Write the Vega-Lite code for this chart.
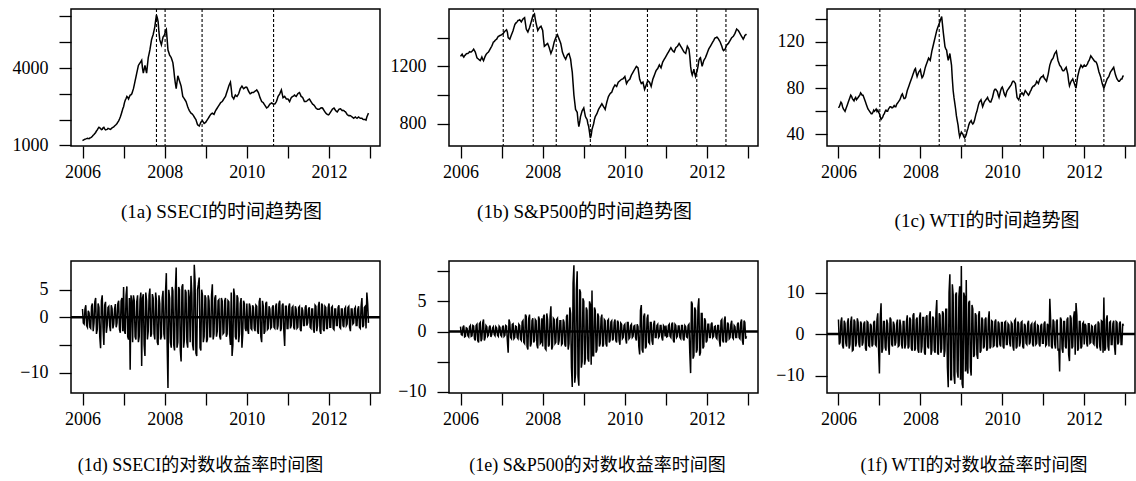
{
"$schema": "https://vega.github.io/schema/vega-lite/v6.json",
"background": "white",
"padding": {"left": 11, "top": 6, "right": 0, "bottom": 0},
"config": {
  "view": {"stroke": "black", "strokeWidth": 1.5},
  "axis": {"domain": false, "grid": false, "tickColor": "black", "tickSize": 12, "tickWidth": 1.3, "labelFont": "Liberation Serif", "labelFontSize": 18, "labelColor": "black", "labelOverlap": false, "labelFlush": false, "labelSeparation": 0},
  "axisY": {"labelPadding": 11},
  "axisX": {"labelPadding": 5},
  "title": {"font": "Liberation Serif, Noto Sans CJK SC", "fontSize": 19, "fontWeight": "normal", "color": "black", "orient": "bottom", "frame": "group", "anchor": "middle"}
},
"datasets": {
"ts": [
{"t":2006.00,"a":1180,"b":1270,"c":63,"d":1.5,"e":0.8,"f":3.5},
{"t":2006.04,"a":1220,"b":1285,"c":66,"d":-1.2,"e":-0.6,"f":-2.0},
{"t":2006.08,"a":1250,"b":1265,"c":67,"d":2.2,"e":1.0,"f":4.0},
{"t":2006.12,"a":1270,"b":1280,"c":62,"d":-1.8,"e":-0.8,"f":-3.5},
{"t":2006.16,"a":1260,"b":1290,"c":60,"d":0.8,"e":0.5,"f":2.5},
{"t":2006.20,"a":1300,"b":1295,"c":64,"d":-2.0,"e":-0.9,"f":-3.0},
{"t":2006.24,"a":1350,"b":1300,"c":68,"d":2.5,"e":1.0,"f":3.8},
{"t":2006.28,"a":1420,"b":1305,"c":72,"d":-1.0,"e":-0.7,"f":-2.5},
{"t":2006.32,"a":1500,"b":1320,"c":73,"d":3.5,"e":0.9,"f":4.2},
{"t":2006.36,"a":1600,"b":1300,"c":70,"d":-2.2,"e":-1.5,"f":-3.8},
{"t":2006.40,"a":1700,"b":1260,"c":71,"d":1.8,"e":1.2,"f":3.0},
{"t":2006.44,"a":1650,"b":1250,"c":70,"d":-5.6,"e":-1.8,"f":-2.0},
{"t":2006.48,"a":1620,"b":1240,"c":72,"d":4.0,"e":1.5,"f":2.8},
{"t":2006.52,"a":1700,"b":1265,"c":74,"d":-5.0,"e":-1.2,"f":-3.2},
{"t":2006.56,"a":1600,"b":1240,"c":75,"d":2.8,"e":2.0,"f":2.5},
{"t":2006.60,"a":1620,"b":1270,"c":74,"d":-1.5,"e":-1.0,"f":-2.0},
{"t":2006.64,"a":1650,"b":1290,"c":70,"d":2.0,"e":0.8,"f":3.0},
{"t":2006.68,"a":1620,"b":1300,"c":66,"d":-2.5,"e":-0.6,"f":-4.0},
{"t":2006.72,"a":1680,"b":1320,"c":62,"d":1.6,"e":1.0,"f":2.8},
{"t":2006.76,"a":1720,"b":1340,"c":60,"d":-1.2,"e":-0.5,"f":-3.0},
{"t":2006.80,"a":1780,"b":1370,"c":58,"d":2.4,"e":0.8,"f":2.0},
{"t":2006.84,"a":1850,"b":1380,"c":59,"d":-1.0,"e":-0.7,"f":-2.5},
{"t":2006.88,"a":1950,"b":1390,"c":60,"d":3.0,"e":0.6,"f":3.2},
{"t":2006.92,"a":2100,"b":1410,"c":62,"d":-2.8,"e":-0.8,"f":-2.8},
{"t":2006.96,"a":2300,"b":1415,"c":61,"d":3.5,"e":0.7,"f":5.0},
{"t":2007.00,"a":2500,"b":1420,"c":58,"d":5.5,"e":-0.8,"f":-9.5},
{"t":2007.04,"a":2750,"b":1430,"c":53,"d":-3.0,"e":1.0,"f":7.4},
{"t":2007.08,"a":2900,"b":1445,"c":55,"d":5.6,"e":-0.6,"f":-3.5},
{"t":2007.12,"a":2800,"b":1455,"c":58,"d":-4.0,"e":0.9,"f":3.0},
{"t":2007.16,"a":2950,"b":1400,"c":61,"d":-9.5,"e":-3.5,"f":-4.0},
{"t":2007.20,"a":3000,"b":1390,"c":60,"d":3.0,"e":1.5,"f":2.5},
{"t":2007.24,"a":3200,"b":1420,"c":63,"d":4.0,"e":-1.2,"f":-5.0},
{"t":2007.28,"a":3500,"b":1450,"c":64,"d":-3.5,"e":1.3,"f":3.5},
{"t":2007.32,"a":3800,"b":1490,"c":63,"d":2.8,"e":-1.0,"f":-3.0},
{"t":2007.36,"a":4100,"b":1505,"c":65,"d":-4.5,"e":0.8,"f":2.2},
{"t":2007.40,"a":4200,"b":1520,"c":64,"d":3.2,"e":-1.2,"f":-2.0},
{"t":2007.44,"a":4300,"b":1525,"c":67,"d":-8.8,"e":1.0,"f":3.5},
{"t":2007.48,"a":3800,"b":1510,"c":69,"d":4.2,"e":-1.5,"f":-2.8},
{"t":2007.52,"a":4100,"b":1530,"c":72,"d":-7.0,"e":1.8,"f":2.0},
{"t":2007.56,"a":3800,"b":1540,"c":75,"d":3.0,"e":-2.0,"f":-3.5},
{"t":2007.60,"a":4400,"b":1460,"c":71,"d":-2.5,"e":2.5,"f":3.0},
{"t":2007.64,"a":4700,"b":1440,"c":72,"d":5.2,"e":-3.0,"f":-2.5},
{"t":2007.68,"a":5100,"b":1470,"c":78,"d":-3.0,"e":2.8,"f":4.5},
{"t":2007.72,"a":5300,"b":1510,"c":82,"d":3.5,"e":-2.0,"f":-3.0},
{"t":2007.76,"a":5600,"b":1550,"c":86,"d":-4.0,"e":2.2,"f":3.5},
{"t":2007.80,"a":6050,"b":1565,"c":90,"d":3.0,"e":-1.5,"f":-4.0},
{"t":2007.84,"a":5800,"b":1500,"c":94,"d":-5.0,"e":1.8,"f":5.0},
{"t":2007.88,"a":5100,"b":1450,"c":97,"d":2.5,"e":-2.8,"f":-3.5},
{"t":2007.92,"a":4900,"b":1470,"c":90,"d":-3.5,"e":2.0,"f":4.0},
{"t":2007.96,"a":5200,"b":1480,"c":94,"d":4.8,"e":-1.8,"f":-4.5},
{"t":2008.00,"a":5300,"b":1450,"c":96,"d":-4.0,"e":-2.5,"f":5.2},
{"t":2008.04,"a":5500,"b":1340,"c":89,"d":8.0,"e":2.8,"f":-3.0},
{"t":2008.08,"a":4700,"b":1350,"c":92,"d":-12.8,"e":-3.0,"f":4.0},
{"t":2008.12,"a":4500,"b":1360,"c":98,"d":3.5,"e":2.0,"f":-5.0},
{"t":2008.16,"a":4400,"b":1330,"c":102,"d":-5.5,"e":-2.2,"f":4.5},
{"t":2008.20,"a":4200,"b":1290,"c":106,"d":4.8,"e":4.2,"f":-3.5},
{"t":2008.24,"a":3650,"b":1320,"c":104,"d":-6.0,"e":-2.5,"f":5.5},
{"t":2008.28,"a":3200,"b":1370,"c":112,"d":9.0,"e":2.0,"f":-4.0},
{"t":2008.32,"a":3700,"b":1400,"c":118,"d":-4.5,"e":-1.8,"f":3.8},
{"t":2008.36,"a":3500,"b":1420,"c":124,"d":5.0,"e":2.2,"f":-4.5},
{"t":2008.40,"a":3300,"b":1390,"c":130,"d":-8.0,"e":-1.5,"f":8.2},
{"t":2008.44,"a":2900,"b":1360,"c":134,"d":6.0,"e":1.8,"f":-5.0},
{"t":2008.48,"a":2800,"b":1300,"c":138,"d":-4.0,"e":-2.0,"f":4.5},
{"t":2008.52,"a":2700,"b":1270,"c":142,"d":4.5,"e":1.5,"f":-3.5},
{"t":2008.56,"a":2500,"b":1250,"c":128,"d":-5.5,"e":-2.5,"f":5.0},
{"t":2008.60,"a":2350,"b":1280,"c":116,"d":3.5,"e":2.8,"f":-4.0},
{"t":2008.64,"a":2250,"b":1290,"c":113,"d":7.5,"e":-2.0,"f":6.0},
{"t":2008.68,"a":2200,"b":1250,"c":104,"d":-5.0,"e":3.0,"f":-12.8},
{"t":2008.72,"a":2100,"b":1160,"c":110,"d":9.5,"e":-9.2,"f":14.4},
{"t":2008.76,"a":2000,"b":1000,"c":100,"d":-6.5,"e":11.0,"f":-11.0},
{"t":2008.80,"a":1800,"b":900,"c":78,"d":5.0,"e":-7.0,"f":9.5},
{"t":2008.84,"a":1750,"b":880,"c":67,"d":7.2,"e":10.0,"f":-12.0},
{"t":2008.88,"a":1900,"b":780,"c":56,"d":-6.0,"e":-9.0,"f":10.0},
{"t":2008.92,"a":1950,"b":850,"c":48,"d":4.0,"e":6.5,"f":-10.5},
{"t":2008.96,"a":1850,"b":890,"c":38,"d":-3.5,"e":-5.0,"f":11.5},
{"t":2009.00,"a":1900,"b":910,"c":42,"d":3.5,"e":5.0,"f":16.4},
{"t":2009.04,"a":2000,"b":850,"c":40,"d":-4.0,"e":-4.5,"f":-13.0},
{"t":2009.08,"a":2100,"b":830,"c":37,"d":3.0,"e":3.5,"f":9.0},
{"t":2009.12,"a":2200,"b":780,"c":40,"d":-3.5,"e":-5.0,"f":13.0},
{"t":2009.16,"a":2250,"b":700,"c":45,"d":6.0,"e":4.5,"f":-9.5},
{"t":2009.20,"a":2200,"b":760,"c":50,"d":-3.0,"e":6.8,"f":8.0},
{"t":2009.24,"a":2350,"b":800,"c":52,"d":4.0,"e":-4.0,"f":-10.0},
{"t":2009.28,"a":2450,"b":850,"c":49,"d":-2.5,"e":3.5,"f":6.0},
{"t":2009.32,"a":2550,"b":870,"c":52,"d":3.2,"e":-3.0,"f":-5.0},
{"t":2009.36,"a":2650,"b":900,"c":58,"d":-4.0,"e":2.5,"f":4.5},
{"t":2009.40,"a":2700,"b":920,"c":63,"d":3.0,"e":-2.0,"f":-6.0},
{"t":2009.44,"a":2800,"b":940,"c":68,"d":-2.8,"e":2.8,"f":5.5},
{"t":2009.48,"a":2900,"b":920,"c":70,"d":3.5,"e":-2.2,"f":-4.0},
{"t":2009.52,"a":3100,"b":900,"c":64,"d":-3.0,"e":1.8,"f":3.5},
{"t":2009.56,"a":3300,"b":950,"c":68,"d":2.8,"e":-2.5,"f":-3.0},
{"t":2009.60,"a":3450,"b":990,"c":70,"d":-5.0,"e":2.0,"f":4.0},
{"t":2009.64,"a":2900,"b":1010,"c":72,"d":-7.0,"e":-1.5,"f":-3.5},
{"t":2009.68,"a":2800,"b":1020,"c":69,"d":5.2,"e":1.8,"f":5.5},
{"t":2009.72,"a":2950,"b":1050,"c":68,"d":-3.5,"e":-1.2,"f":-3.0},
{"t":2009.76,"a":2900,"b":1070,"c":72,"d":4.0,"e":2.0,"f":3.0},
{"t":2009.80,"a":3000,"b":1060,"c":78,"d":-4.5,"e":-1.8,"f":-2.8},
{"t":2009.84,"a":3200,"b":1090,"c":79,"d":2.5,"e":1.5,"f":3.5},
{"t":2009.88,"a":3300,"b":1100,"c":77,"d":-5.5,"e":-2.2,"f":-3.2},
{"t":2009.92,"a":3200,"b":1110,"c":72,"d":3.0,"e":1.2,"f":2.5},
{"t":2009.96,"a":3250,"b":1115,"c":78,"d":-2.0,"e":-1.0,"f":-3.0},
{"t":2010.00,"a":3250,"b":1130,"c":81,"d":2.5,"e":1.2,"f":2.8},
{"t":2010.04,"a":3100,"b":1080,"c":76,"d":-3.0,"e":-2.0,"f":-3.5},
{"t":2010.08,"a":3000,"b":1100,"c":73,"d":2.0,"e":1.5,"f":3.0},
{"t":2010.12,"a":3050,"b":1110,"c":78,"d":-2.2,"e":-1.0,"f":-2.5},
{"t":2010.16,"a":3050,"b":1140,"c":80,"d":1.8,"e":1.2,"f":2.2},
{"t":2010.20,"a":3100,"b":1160,"c":82,"d":-2.5,"e":-0.8,"f":-3.0},
{"t":2010.24,"a":3150,"b":1180,"c":85,"d":2.0,"e":1.0,"f":2.5},
{"t":2010.28,"a":3050,"b":1200,"c":86,"d":-3.0,"e":-1.5,"f":-4.0},
{"t":2010.32,"a":2850,"b":1190,"c":84,"d":3.5,"e":0.8,"f":3.5},
{"t":2010.36,"a":2700,"b":1110,"c":72,"d":-4.5,"e":-3.8,"f":-3.0},
{"t":2010.40,"a":2650,"b":1080,"c":70,"d":2.0,"e":4.4,"f":2.5},
{"t":2010.44,"a":2550,"b":1090,"c":75,"d":-2.5,"e":-3.5,"f":-2.0},
{"t":2010.48,"a":2450,"b":1040,"c":76,"d":2.8,"e":3.0,"f":3.0},
{"t":2010.52,"a":2500,"b":1070,"c":74,"d":-2.0,"e":-2.5,"f":-3.5},
{"t":2010.56,"a":2600,"b":1100,"c":78,"d":1.5,"e":2.8,"f":2.0},
{"t":2010.60,"a":2650,"b":1090,"c":76,"d":-1.8,"e":-2.0,"f":-2.5},
{"t":2010.64,"a":2600,"b":1060,"c":74,"d":2.2,"e":1.5,"f":3.2},
{"t":2010.68,"a":2600,"b":1110,"c":77,"d":-2.0,"e":-2.2,"f":-2.0},
{"t":2010.72,"a":2700,"b":1140,"c":80,"d":2.5,"e":1.8,"f":2.5},
{"t":2010.76,"a":2900,"b":1170,"c":82,"d":-1.5,"e":-1.0,"f":-3.0},
{"t":2010.80,"a":3000,"b":1185,"c":83,"d":3.0,"e":1.2,"f":2.8},
{"t":2010.84,"a":3150,"b":1210,"c":86,"d":-2.0,"e":-0.8,"f":-2.2},
{"t":2010.88,"a":2850,"b":1190,"c":84,"d":2.5,"e":1.0,"f":2.0},
{"t":2010.92,"a":2900,"b":1230,"c":88,"d":-5.2,"e":-1.5,"f":-3.0},
{"t":2010.96,"a":2800,"b":1250,"c":90,"d":2.0,"e":0.8,"f":2.5},
{"t":2011.00,"a":2800,"b":1270,"c":91,"d":-2.0,"e":1.0,"f":-2.2},
{"t":2011.04,"a":2700,"b":1290,"c":88,"d":2.5,"e":-0.8,"f":3.0},
{"t":2011.08,"a":2850,"b":1310,"c":86,"d":-1.5,"e":1.2,"f":-2.5},
{"t":2011.12,"a":2900,"b":1330,"c":92,"d":2.0,"e":-1.0,"f":2.0},
{"t":2011.16,"a":2950,"b":1310,"c":100,"d":-2.2,"e":1.5,"f":8.5},
{"t":2011.20,"a":2900,"b":1300,"c":104,"d":1.5,"e":-1.8,"f":-3.0},
{"t":2011.24,"a":3000,"b":1330,"c":106,"d":-1.8,"e":1.0,"f":3.5},
{"t":2011.28,"a":3050,"b":1340,"c":110,"d":2.0,"e":-0.8,"f":-2.5},
{"t":2011.32,"a":2900,"b":1360,"c":112,"d":-2.5,"e":0.9,"f":3.0},
{"t":2011.36,"a":2850,"b":1340,"c":104,"d":1.2,"e":-1.2,"f":-4.0},
{"t":2011.40,"a":2700,"b":1320,"c":100,"d":-1.5,"e":1.0,"f":-9.0},
{"t":2011.44,"a":2700,"b":1300,"c":98,"d":2.2,"e":-1.5,"f":3.5},
{"t":2011.48,"a":2750,"b":1290,"c":95,"d":-1.0,"e":0.8,"f":-4.5},
{"t":2011.52,"a":2800,"b":1340,"c":96,"d":1.8,"e":-1.0,"f":3.0},
{"t":2011.56,"a":2700,"b":1320,"c":98,"d":-2.0,"e":1.2,"f":-3.5},
{"t":2011.60,"a":2600,"b":1200,"c":92,"d":1.5,"e":-6.9,"f":4.0},
{"t":2011.64,"a":2550,"b":1140,"c":82,"d":-2.8,"e":4.6,"f":-6.5},
{"t":2011.68,"a":2450,"b":1180,"c":86,"d":2.0,"e":-4.0,"f":3.8},
{"t":2011.72,"a":2400,"b":1130,"c":88,"d":-1.5,"e":3.5,"f":-3.0},
{"t":2011.76,"a":2400,"b":1170,"c":84,"d":2.8,"e":-3.0,"f":5.5},
{"t":2011.80,"a":2450,"b":1240,"c":80,"d":-3.0,"e":5.5,"f":7.5},
{"t":2011.84,"a":2450,"b":1260,"c":90,"d":2.2,"e":-3.5,"f":-4.0},
{"t":2011.88,"a":2350,"b":1200,"c":96,"d":-2.5,"e":3.0,"f":3.0},
{"t":2011.92,"a":2250,"b":1240,"c":100,"d":1.8,"e":-2.5,"f":-3.5},
{"t":2011.96,"a":2200,"b":1260,"c":98,"d":-2.0,"e":1.8,"f":2.5},
{"t":2012.00,"a":2200,"b":1290,"c":100,"d":2.5,"e":-1.5,"f":-2.5},
{"t":2012.04,"a":2300,"b":1320,"c":99,"d":-1.8,"e":1.2,"f":2.0},
{"t":2012.08,"a":2400,"b":1340,"c":101,"d":2.0,"e":-1.0,"f":-3.0},
{"t":2012.12,"a":2450,"b":1360,"c":104,"d":-2.2,"e":1.5,"f":2.5},
{"t":2012.16,"a":2350,"b":1380,"c":108,"d":1.5,"e":-0.8,"f":-2.0},
{"t":2012.20,"a":2300,"b":1400,"c":106,"d":-1.5,"e":0.9,"f":1.8},
{"t":2012.24,"a":2400,"b":1405,"c":104,"d":2.2,"e":-1.2,"f":-2.5},
{"t":2012.28,"a":2420,"b":1390,"c":103,"d":-2.0,"e":1.0,"f":2.2},
{"t":2012.32,"a":2350,"b":1370,"c":100,"d":1.5,"e":-2.5,"f":-3.5},
{"t":2012.36,"a":2350,"b":1340,"c":94,"d":-1.8,"e":2.0,"f":2.5},
{"t":2012.40,"a":2300,"b":1310,"c":90,"d":1.8,"e":-1.8,"f":-4.0},
{"t":2012.44,"a":2200,"b":1320,"c":84,"d":-1.2,"e":2.5,"f":3.0},
{"t":2012.48,"a":2150,"b":1350,"c":80,"d":2.0,"e":-1.5,"f":8.8},
{"t":2012.52,"a":2150,"b":1360,"c":84,"d":-2.5,"e":1.2,"f":-3.5},
{"t":2012.56,"a":2100,"b":1380,"c":88,"d":1.5,"e":-1.0,"f":4.5},
{"t":2012.60,"a":2050,"b":1400,"c":90,"d":-1.0,"e":1.8,"f":-4.0},
{"t":2012.64,"a":2100,"b":1410,"c":94,"d":1.8,"e":-1.2,"f":3.0},
{"t":2012.68,"a":2050,"b":1430,"c":96,"d":-1.5,"e":0.8,"f":-2.5},
{"t":2012.72,"a":2100,"b":1460,"c":98,"d":2.0,"e":-1.0,"f":3.2},
{"t":2012.76,"a":2050,"b":1450,"c":92,"d":-2.0,"e":1.5,"f":-5.0},
{"t":2012.80,"a":2050,"b":1430,"c":88,"d":3.5,"e":-1.2,"f":2.8},
{"t":2012.84,"a":2000,"b":1410,"c":86,"d":-1.5,"e":2.0,"f":-2.0},
{"t":2012.88,"a":2000,"b":1390,"c":87,"d":2.0,"e":-2.2,"f":3.0},
{"t":2012.92,"a":2100,"b":1415,"c":88,"d":4.5,"e":1.5,"f":-2.5},
{"t":2012.96,"a":2250,"b":1425,"c":91,"d":-1.0,"e":-0.8,"f":2.0},
{"t":2006.02,"a":1200,"b":1278,"c":64,"d":-1.0,"e":-0.5,"f":-2.5},
{"t":2006.06,"a":1240,"b":1272,"c":68,"d":1.5,"e":0.7,"f":3.0},
{"t":2006.10,"a":1262,"b":1275,"c":64,"d":-1.5,"e":-0.9,"f":-2.8},
{"t":2006.14,"a":1262,"b":1288,"c":61,"d":1.2,"e":0.6,"f":3.2},
{"t":2006.18,"a":1285,"b":1290,"c":62,"d":-1.8,"e":-0.7,"f":-2.2},
{"t":2006.22,"a":1320,"b":1302,"c":66,"d":2.0,"e":0.8,"f":2.8},
{"t":2006.26,"a":1390,"b":1300,"c":70,"d":-2.5,"e":-0.8,"f":-3.5},
{"t":2006.30,"a":1460,"b":1312,"c":74,"d":2.8,"e":1.0,"f":3.0},
{"t":2006.34,"a":1560,"b":1310,"c":71,"d":-3.0,"e":-1.2,"f":-4.0},
{"t":2006.38,"a":1660,"b":1280,"c":69,"d":2.5,"e":1.0,"f":3.5},
{"t":2006.42,"a":1680,"b":1255,"c":72,"d":-3.5,"e":-1.5,"f":-3.0},
{"t":2006.46,"a":1610,"b":1245,"c":71,"d":3.0,"e":1.3,"f":3.8},
{"t":2006.50,"a":1680,"b":1252,"c":73,"d":-2.0,"e":-1.6,"f":-2.5},
{"t":2006.54,"a":1640,"b":1250,"c":76,"d":2.2,"e":1.4,"f":3.0},
{"t":2006.58,"a":1610,"b":1255,"c":74,"d":-2.8,"e":-1.5,"f":-2.8},
{"t":2006.62,"a":1660,"b":1282,"c":72,"d":1.8,"e":1.0,"f":2.5},
{"t":2006.66,"a":1630,"b":1295,"c":68,"d":-1.5,"e":-0.8,"f":-3.5},
{"t":2006.70,"a":1650,"b":1310,"c":64,"d":2.2,"e":0.7,"f":3.0},
{"t":2006.74,"a":1700,"b":1330,"c":61,"d":-2.0,"e":-0.9,"f":-2.8},
{"t":2006.78,"a":1750,"b":1355,"c":59,"d":1.5,"e":0.6,"f":2.5},
{"t":2006.82,"a":1810,"b":1372,"c":58,"d":-1.8,"e":-0.5,"f":-3.0},
{"t":2006.86,"a":1900,"b":1386,"c":61,"d":2.5,"e":0.8,"f":2.8},
{"t":2006.90,"a":2020,"b":1400,"c":61,"d":-2.2,"e":-0.6,"f":-2.5},
{"t":2006.94,"a":2200,"b":1412,"c":60,"d":3.0,"e":0.9,"f":3.5},
{"t":2006.98,"a":2420,"b":1418,"c":59,"d":-2.5,"e":-0.6,"f":-4.0},
{"t":2007.02,"a":2650,"b":1426,"c":55,"d":-2.5,"e":0.7,"f":4.0},
{"t":2007.06,"a":2820,"b":1438,"c":54,"d":4.0,"e":-0.8,"f":-4.5},
{"t":2007.10,"a":2860,"b":1450,"c":57,"d":-3.5,"e":1.0,"f":3.0},
{"t":2007.14,"a":2880,"b":1440,"c":60,"d":3.5,"e":-1.5,"f":-3.2},
{"t":2007.18,"a":2960,"b":1395,"c":60,"d":4.0,"e":2.0,"f":3.5},
{"t":2007.22,"a":3100,"b":1405,"c":62,"d":-4.5,"e":-1.0,"f":-3.0},
{"t":2007.26,"a":3350,"b":1435,"c":64,"d":3.0,"e":1.2,"f":4.0},
{"t":2007.30,"a":3650,"b":1470,"c":63,"d":-4.0,"e":-1.2,"f":-2.5},
{"t":2007.34,"a":3950,"b":1500,"c":64,"d":4.0,"e":0.9,"f":3.0},
{"t":2007.38,"a":4150,"b":1512,"c":64,"d":-3.5,"e":-1.0,"f":-2.8},
{"t":2007.42,"a":4250,"b":1522,"c":66,"d":4.5,"e":1.2,"f":2.5},
{"t":2007.46,"a":4000,"b":1518,"c":68,"d":3.5,"e":-1.3,"f":-3.0},
{"t":2007.50,"a":3950,"b":1520,"c":70,"d":-5.0,"e":1.6,"f":3.5},
{"t":2007.54,"a":3950,"b":1535,"c":74,"d":4.5,"e":-1.8,"f":-2.5},
{"t":2007.58,"a":4100,"b":1500,"c":73,"d":-4.0,"e":2.8,"f":3.0},
{"t":2007.62,"a":4550,"b":1450,"c":71,"d":4.0,"e":-2.5,"f":-3.5},
{"t":2007.66,"a":4900,"b":1455,"c":75,"d":-3.5,"e":2.2,"f":3.0},
{"t":2007.70,"a":5200,"b":1490,"c":80,"d":4.2,"e":-2.5,"f":-3.5},
{"t":2007.74,"a":5450,"b":1530,"c":84,"d":-3.0,"e":1.8,"f":4.0},
{"t":2007.78,"a":5850,"b":1558,"c":88,"d":4.5,"e":-1.8,"f":-3.5},
{"t":2007.82,"a":5950,"b":1530,"c":92,"d":-4.5,"e":2.0,"f":4.5},
{"t":2007.86,"a":5400,"b":1475,"c":96,"d":4.0,"e":-2.2,"f":-4.0},
{"t":2007.90,"a":5000,"b":1460,"c":93,"d":-4.0,"e":2.5,"f":3.5},
{"t":2007.94,"a":5050,"b":1475,"c":92,"d":3.5,"e":-2.0,"f":-3.8},
{"t":2007.98,"a":5250,"b":1465,"c":95,"d":-3.0,"e":2.2,"f":4.2},
{"t":2008.02,"a":5450,"b":1390,"c":92,"d":4.5,"e":2.5,"f":-4.5},
{"t":2008.06,"a":5100,"b":1345,"c":90,"d":-5.0,"e":-2.8,"f":4.0},
{"t":2008.10,"a":4600,"b":1355,"c":95,"d":5.0,"e":3.0,"f":-4.5},
{"t":2008.14,"a":4450,"b":1345,"c":100,"d":-4.5,"e":-2.5,"f":4.0},
{"t":2008.18,"a":4300,"b":1310,"c":104,"d":5.5,"e":2.5,"f":-3.0},
{"t":2008.22,"a":3950,"b":1305,"c":105,"d":-5.0,"e":-3.0,"f":4.5},
{"t":2008.26,"a":3400,"b":1345,"c":108,"d":5.0,"e":2.2,"f":-5.0},
{"t":2008.30,"a":3450,"b":1385,"c":115,"d":-5.5,"e":-2.0,"f":4.2},
{"t":2008.34,"a":3600,"b":1410,"c":121,"d":5.5,"e":2.0,"f":-4.0},
{"t":2008.38,"a":3400,"b":1405,"c":127,"d":-6.0,"e":-2.2,"f":5.0},
{"t":2008.42,"a":3100,"b":1375,"c":132,"d":5.5,"e":1.8,"f":-4.5},
{"t":2008.46,"a":2850,"b":1330,"c":136,"d":-5.5,"e":-2.2,"f":5.0},
{"t":2008.50,"a":2750,"b":1285,"c":140,"d":5.0,"e":2.0,"f":-4.5},
{"t":2008.54,"a":2600,"b":1260,"c":135,"d":-4.5,"e":-2.2,"f":5.5},
{"t":2008.58,"a":2420,"b":1265,"c":122,"d":5.0,"e":2.5,"f":-5.5},
{"t":2008.62,"a":2300,"b":1285,"c":114,"d":-4.5,"e":-3.0,"f":6.0},
{"t":2008.66,"a":2230,"b":1270,"c":108,"d":4.5,"e":4.0,"f":-8.0},
{"t":2008.70,"a":2150,"b":1200,"c":107,"d":-6.0,"e":-6.0,"f":10.0},
{"t":2008.74,"a":2050,"b":1080,"c":105,"d":6.5,"e":8.0,"f":-11.0},
{"t":2008.78,"a":1900,"b":950,"c":88,"d":-7.0,"e":-8.5,"f":12.0},
{"t":2008.82,"a":1780,"b":890,"c":72,"d":6.0,"e":7.0,"f":-10.0},
{"t":2008.86,"a":1820,"b":820,"c":62,"d":-5.5,"e":-7.5,"f":9.5},
{"t":2008.90,"a":1930,"b":810,"c":52,"d":5.0,"e":7.0,"f":-9.0},
{"t":2008.94,"a":1900,"b":870,"c":42,"d":-4.5,"e":-6.0,"f":9.0},
{"t":2008.98,"a":1870,"b":900,"c":40,"d":4.0,"e":5.5,"f":-11.0},
{"t":2009.02,"a":1950,"b":880,"c":41,"d":-4.5,"e":-5.5,"f":-12.0},
{"t":2009.06,"a":2050,"b":840,"c":38,"d":4.0,"e":4.0,"f":10.0},
{"t":2009.10,"a":2150,"b":800,"c":38,"d":-3.5,"e":-4.5,"f":-9.0},
{"t":2009.14,"a":2230,"b":740,"c":43,"d":4.0,"e":5.0,"f":-8.5},
{"t":2009.18,"a":2220,"b":720,"c":48,"d":-4.0,"e":-5.5,"f":7.5},
{"t":2009.22,"a":2280,"b":780,"c":51,"d":3.5,"e":-4.0,"f":-8.0},
{"t":2009.26,"a":2400,"b":830,"c":50,"d":-3.5,"e":4.0,"f":7.0},
{"t":2009.30,"a":2500,"b":860,"c":50,"d":3.0,"e":-3.5,"f":-5.5},
{"t":2009.34,"a":2600,"b":885,"c":55,"d":-3.5,"e":3.0,"f":5.0},
{"t":2009.38,"a":2680,"b":910,"c":60,"d":3.5,"e":-2.5,"f":-5.0},
{"t":2009.42,"a":2750,"b":930,"c":66,"d":-3.0,"e":2.2,"f":4.5},
{"t":2009.46,"a":2850,"b":930,"c":69,"d":3.0,"e":-2.5,"f":-4.5},
{"t":2009.50,"a":3000,"b":910,"c":67,"d":-3.5,"e":2.0,"f":4.0},
{"t":2009.54,"a":3200,"b":925,"c":66,"d":3.0,"e":-2.0,"f":-3.5},
{"t":2009.58,"a":3380,"b":970,"c":69,"d":-3.0,"e":1.8,"f":3.5},
{"t":2009.62,"a":3200,"b":1000,"c":71,"d":4.5,"e":-1.8,"f":-4.0},
{"t":2009.66,"a":2850,"b":1015,"c":70,"d":-5.0,"e":1.6,"f":3.5},
{"t":2009.70,"a":2880,"b":1035,"c":68,"d":4.0,"e":-1.5,"f":-3.5},
{"t":2009.74,"a":2920,"b":1060,"c":70,"d":-4.0,"e":1.5,"f":3.2},
{"t":2009.78,"a":2950,"b":1065,"c":75,"d":3.5,"e":-1.5,"f":-3.0},
{"t":2009.82,"a":3100,"b":1075,"c":79,"d":-3.0,"e":1.8,"f":3.0},
{"t":2009.86,"a":3250,"b":1095,"c":78,"d":3.5,"e":-1.5,"f":-2.8},
{"t":2009.90,"a":3250,"b":1105,"c":74,"d":-3.0,"e":1.4,"f":3.0},
{"t":2009.94,"a":3220,"b":1112,"c":75,"d":2.5,"e":-1.2,"f":-2.5},
{"t":2009.98,"a":3260,"b":1122,"c":80,"d":-2.5,"e":1.0,"f":2.8},
{"t":2010.02,"a":3180,"b":1105,"c":79,"d":-2.2,"e":-1.2,"f":-3.0},
{"t":2010.06,"a":3050,"b":1090,"c":74,"d":2.5,"e":1.5,"f":2.8},
{"t":2010.10,"a":3020,"b":1105,"c":76,"d":-2.0,"e":-1.2,"f":-2.5},
{"t":2010.14,"a":3050,"b":1125,"c":79,"d":2.2,"e":1.0,"f":2.5},
{"t":2010.18,"a":3080,"b":1150,"c":81,"d":-2.0,"e":-1.0,"f":-2.2},
{"t":2010.22,"a":3120,"b":1170,"c":83,"d":2.2,"e":0.9,"f":2.8},
{"t":2010.26,"a":3100,"b":1190,"c":86,"d":-2.5,"e":-1.0,"f":-3.0},
{"t":2010.30,"a":2950,"b":1195,"c":85,"d":2.8,"e":1.2,"f":3.2},
{"t":2010.34,"a":2780,"b":1150,"c":78,"d":-3.5,"e":-2.5,"f":-3.5},
{"t":2010.38,"a":2680,"b":1095,"c":71,"d":3.0,"e":3.5,"f":3.0},
{"t":2010.42,"a":2600,"b":1085,"c":72,"d":-3.0,"e":-3.0,"f":-3.0},
{"t":2010.46,"a":2500,"b":1065,"c":75,"d":2.5,"e":2.5,"f":2.8},
{"t":2010.50,"a":2470,"b":1055,"c":75,"d":-2.2,"e":-2.8,"f":-3.0},
{"t":2010.54,"a":2550,"b":1085,"c":76,"d":2.0,"e":2.2,"f":2.5},
{"t":2010.58,"a":2620,"b":1095,"c":77,"d":-2.0,"e":-1.8,"f":-2.2},
{"t":2010.62,"a":2630,"b":1075,"c":75,"d":1.8,"e":1.5,"f":2.5},
{"t":2010.66,"a":2600,"b":1085,"c":75,"d":-1.8,"e":-1.5,"f":-2.5},
{"t":2010.70,"a":2650,"b":1125,"c":78,"d":2.0,"e":1.2,"f":2.2},
{"t":2010.74,"a":2800,"b":1155,"c":81,"d":-2.2,"e":-1.0,"f":-2.5},
{"t":2010.78,"a":2950,"b":1178,"c":82,"d":2.5,"e":1.0,"f":2.5},
{"t":2010.82,"a":3080,"b":1198,"c":84,"d":-2.5,"e":-1.0,"f":-2.5},
{"t":2010.86,"a":3000,"b":1200,"c":85,"d":2.2,"e":1.0,"f":2.2},
{"t":2010.90,"a":2870,"b":1210,"c":86,"d":-2.5,"e":-1.0,"f":-2.5},
{"t":2010.94,"a":2850,"b":1240,"c":89,"d":2.0,"e":1.0,"f":2.0},
{"t":2010.98,"a":2800,"b":1260,"c":90,"d":-2.0,"e":-0.8,"f":-2.2},
{"t":2011.02,"a":2750,"b":1280,"c":89,"d":2.0,"e":-0.9,"f":2.5},
{"t":2011.06,"a":2780,"b":1300,"c":87,"d":-2.0,"e":1.0,"f":-2.8},
{"t":2011.10,"a":2880,"b":1320,"c":89,"d":1.8,"e":-0.8,"f":2.5},
{"t":2011.14,"a":2920,"b":1320,"c":96,"d":-1.8,"e":1.2,"f":-3.0},
{"t":2011.18,"a":2920,"b":1305,"c":102,"d":2.0,"e":-1.5,"f":3.5},
{"t":2011.22,"a":2950,"b":1315,"c":105,"d":-2.0,"e":1.2,"f":-3.5},
{"t":2011.26,"a":3030,"b":1335,"c":108,"d":1.8,"e":-1.0,"f":3.0},
{"t":2011.30,"a":2980,"b":1350,"c":111,"d":-2.2,"e":0.9,"f":-3.5},
{"t":2011.34,"a":2880,"b":1350,"c":108,"d":1.8,"e":-1.0,"f":3.5},
{"t":2011.38,"a":2780,"b":1330,"c":102,"d":-1.5,"e":1.0,"f":-3.5},
{"t":2011.42,"a":2700,"b":1310,"c":99,"d":1.8,"e":-1.2,"f":4.0},
{"t":2011.46,"a":2720,"b":1295,"c":96,"d":-1.5,"e":1.0,"f":-3.5},
{"t":2011.50,"a":2780,"b":1315,"c":95,"d":1.5,"e":-0.9,"f":3.0},
{"t":2011.54,"a":2750,"b":1330,"c":97,"d":-1.8,"e":1.0,"f":-3.0},
{"t":2011.58,"a":2650,"b":1270,"c":95,"d":1.5,"e":-3.5,"f":3.5},
{"t":2011.62,"a":2580,"b":1160,"c":86,"d":-2.2,"e":5.0,"f":-5.0},
{"t":2011.66,"a":2500,"b":1160,"c":84,"d":2.2,"e":-4.5,"f":4.5},
{"t":2011.70,"a":2420,"b":1150,"c":87,"d":-2.5,"e":4.0,"f":-3.5},
{"t":2011.74,"a":2400,"b":1150,"c":86,"d":2.0,"e":-3.5,"f":4.0},
{"t":2011.78,"a":2420,"b":1200,"c":82,"d":-2.5,"e":4.0,"f":-5.0},
{"t":2011.82,"a":2460,"b":1255,"c":85,"d":2.5,"e":-4.0,"f":4.5},
{"t":2011.86,"a":2400,"b":1230,"c":93,"d":-2.2,"e":3.0,"f":-3.5},
{"t":2011.90,"a":2300,"b":1220,"c":98,"d":2.0,"e":-2.8,"f":3.0},
{"t":2011.94,"a":2220,"b":1250,"c":99,"d":-2.0,"e":2.2,"f":-3.0},
{"t":2011.98,"a":2180,"b":1275,"c":99,"d":1.8,"e":-1.8,"f":2.8},
{"t":2012.02,"a":2250,"b":1305,"c":99,"d":-1.8,"e":1.2,"f":2.5},
{"t":2012.06,"a":2350,"b":1330,"c":100,"d":1.8,"e":-1.0,"f":-2.2},
{"t":2012.10,"a":2430,"b":1350,"c":103,"d":-2.0,"e":1.2,"f":2.5},
{"t":2012.14,"a":2400,"b":1370,"c":106,"d":1.5,"e":-1.0,"f":-2.2},
{"t":2012.18,"a":2320,"b":1392,"c":107,"d":-1.5,"e":0.8,"f":2.0},
{"t":2012.22,"a":2350,"b":1400,"c":105,"d":1.8,"e":-1.0,"f":-2.2},
{"t":2012.26,"a":2410,"b":1398,"c":103,"d":-1.8,"e":1.0,"f":2.0},
{"t":2012.30,"a":2380,"b":1380,"c":102,"d":1.5,"e":-1.5,"f":-2.8},
{"t":2012.34,"a":2360,"b":1355,"c":97,"d":-1.5,"e":1.8,"f":3.0},
{"t":2012.38,"a":2320,"b":1320,"c":92,"d":1.5,"e":-1.5,"f":-3.0},
{"t":2012.42,"a":2250,"b":1315,"c":87,"d":-1.5,"e":1.8,"f":3.2},
{"t":2012.46,"a":2170,"b":1335,"c":82,"d":1.8,"e":-1.8,"f":-4.5},
{"t":2012.50,"a":2160,"b":1355,"c":82,"d":-1.8,"e":1.5,"f":-4.0},
{"t":2012.54,"a":2130,"b":1370,"c":86,"d":1.5,"e":-1.2,"f":3.5},
{"t":2012.58,"a":2080,"b":1390,"c":89,"d":-1.2,"e":1.2,"f":-3.0},
{"t":2012.62,"a":2080,"b":1405,"c":92,"d":1.5,"e":-1.0,"f":2.8},
{"t":2012.66,"a":2070,"b":1420,"c":95,"d":-1.5,"e":1.0,"f":-2.5},
{"t":2012.70,"a":2080,"b":1445,"c":97,"d":1.5,"e":-1.0,"f":2.5},
{"t":2012.74,"a":2070,"b":1455,"c":95,"d":-1.8,"e":1.2,"f":-3.0},
{"t":2012.78,"a":2050,"b":1440,"c":90,"d":2.0,"e":-1.0,"f":3.0},
{"t":2012.82,"a":2020,"b":1420,"c":87,"d":-1.8,"e":1.5,"f":-2.5},
{"t":2012.86,"a":2000,"b":1400,"c":86,"d":1.8,"e":-1.5,"f":2.5},
{"t":2012.90,"a":1980,"b":1400,"c":88,"d":-2.0,"e":1.8,"f":-2.5},
{"t":2012.94,"a":2180,"b":1420,"c":90,"d":2.5,"e":-1.2,"f":2.5}
]
},
"columns": 3,
"spacing": {"row": 115, "column": 69},
"bounds": "flush",
"concat": [
{"width": 309, "height": 137,
 "title": {"text": "(1a) SSECI的时间趋势图", "dx": -4, "offset": 22},
 "layer": [
  {"data": {"name": "ts"}, "mark": {"type": "line", "color": "black", "strokeWidth": 1.5},
   "encoding": {
    "x": {"field": "t", "type": "quantitative", "title": null, "scale": {"domain": [2005.72, 2013.24], "nice": false, "zero": false}, "axis": {"values": [2006,2007,2008,2009,2010,2011,2012,2013], "format": "d", "labelOverlap": false, "labelExpr": "datum.value % 2 == 0 ? datum.label : ''"}},
    "y": {"field": "a", "type": "quantitative", "title": null, "scale": {"domain": [975, 6290], "nice": false, "zero": false}, "axis": {"values": [1000,2000,3000,4000,5000,6000], "format": "d", "labelOverlap": false, "labelExpr": "datum.value == 1000 || datum.value == 4000 ? datum.label : ''"}}}},
  {"data": {"values": [{"t": 2007.80}, {"t": 2008.01}, {"t": 2008.91}, {"t": 2010.65}]}, "mark": {"type": "rule", "color": "black", "strokeDash": [3, 2], "strokeWidth": 1.1},
   "encoding": {"x": {"field": "t", "type": "quantitative", "title": null, "scale": {"domain": [2005.72, 2013.24], "nice": false, "zero": false}}}}
 ]},
{"width": 309, "height": 137,
 "title": {"text": "(1b) S&P500的时间趋势图", "dx": -19, "offset": 22},
 "layer": [
  {"data": {"name": "ts"}, "mark": {"type": "line", "color": "black", "strokeWidth": 1.5},
   "encoding": {
    "x": {"field": "t", "type": "quantitative", "title": null, "scale": {"domain": [2005.72, 2013.24], "nice": false, "zero": false}, "axis": {"values": [2006,2007,2008,2009,2010,2011,2012,2013], "format": "d", "labelOverlap": false, "labelExpr": "datum.value % 2 == 0 ? datum.label : ''"}},
    "y": {"field": "b", "type": "quantitative", "title": null, "scale": {"domain": [645, 1600], "nice": false, "zero": false}, "axis": {"values": [800,1000,1200,1400], "format": "d", "labelOverlap": false, "labelExpr": "datum.value == 800 || datum.value == 1200 ? datum.label : ''"}}}},
  {"data": {"values": [{"t": 2007.04}, {"t": 2007.77}, {"t": 2008.33}, {"t": 2009.16}, {"t": 2010.55}, {"t": 2011.75}, {"t": 2012.46}]}, "mark": {"type": "rule", "color": "black", "strokeDash": [3, 2], "strokeWidth": 1.1},
   "encoding": {"x": {"field": "t", "type": "quantitative", "title": null, "scale": {"domain": [2005.72, 2013.24], "nice": false, "zero": false}}}}
 ]},
{"width": 308, "height": 137,
 "title": {"text": "(1c) WTI的时间趋势图", "dx": 6, "offset": 31},
 "layer": [
  {"data": {"name": "ts"}, "mark": {"type": "line", "color": "black", "strokeWidth": 1.5},
   "encoding": {
    "x": {"field": "t", "type": "quantitative", "title": null, "scale": {"domain": [2005.72, 2013.24], "nice": false, "zero": false}, "axis": {"values": [2006,2007,2008,2009,2010,2011,2012,2013], "format": "d", "labelOverlap": false, "labelExpr": "datum.value % 2 == 0 ? datum.label : ''"}},
    "y": {"field": "c", "type": "quantitative", "title": null, "scale": {"domain": [30, 148.5], "nice": false, "zero": false}, "axis": {"values": [40,60,80,100,120,140], "format": "d", "labelOverlap": false, "labelExpr": "datum.value == 40 || datum.value == 80 || datum.value == 120 ? datum.label : ''"}}}},
  {"data": {"values": [{"t": 2007.01}, {"t": 2008.46}, {"t": 2009.09}, {"t": 2010.44}, {"t": 2011.79}, {"t": 2012.48}]}, "mark": {"type": "rule", "color": "black", "strokeDash": [3, 2], "strokeWidth": 1.1},
   "encoding": {"x": {"field": "t", "type": "quantitative", "title": null, "scale": {"domain": [2005.72, 2013.24], "nice": false, "zero": false}}}}
 ]},
{"width": 309, "height": 132,
 "title": {"text": "(1d)  SSECI的对数收益率时间图", "dx": -25, "offset": 29, "fontSize": 18},
 "layer": [
  {"data": {"name": "ts"}, "mark": {"type": "line", "color": "black", "strokeWidth": 1.5},
   "encoding": {
    "x": {"field": "t", "type": "quantitative", "title": null, "scale": {"domain": [2005.72, 2013.24], "nice": false, "zero": false}, "axis": {"values": [2006,2007,2008,2009,2010,2011,2012,2013], "format": "d", "labelOverlap": false, "labelExpr": "datum.value % 2 == 0 ? datum.label : ''"}},
    "y": {"field": "d", "type": "quantitative", "title": null, "scale": {"domain": [-13.7, 10.2], "nice": false, "zero": false}, "axis": {"values": [5,0,-5,-10], "labelOverlap": false, "labelExpr": "datum.value == -10 || datum.value == 0 || datum.value == 5 ? datum.label : ''"}}}},
  {"data": {"values": [{}]}, "mark": {"type": "rule", "color": "black", "strokeWidth": 2.5},
   "encoding": {"y": {"datum": 0}}}
 ]},
{"width": 309, "height": 132,
 "title": {"text": "(1e)  S&P500的对数收益率时间图", "dx": -6, "offset": 29, "fontSize": 18},
 "resolve": {"axis": {"y": "independent"}},
 "layer": [
  {"data": {"name": "ts"}, "mark": {"type": "line", "color": "black", "strokeWidth": 1.5},
   "encoding": {
    "x": {"field": "t", "type": "quantitative", "title": null, "scale": {"domain": [2005.72, 2013.24], "nice": false, "zero": false}, "axis": {"values": [2006,2007,2008,2009,2010,2011,2012,2013], "format": "d", "labelOverlap": false, "labelExpr": "datum.value % 2 == 0 ? datum.label : ''"}},
    "y": {"field": "e", "type": "quantitative", "title": null, "scale": {"domain": [-10.2, 11.7], "nice": false, "zero": false}, "axis": {"orient": "left", "values": [10,-5], "labels": false}}}},
  {"data": {"values": [{"z": 0}]}, "mark": {"type": "rule", "color": "black", "strokeWidth": 2.5},
   "encoding": {"y": {"field": "z", "type": "quantitative", "title": null, "scale": {"domain": [-10.2, 11.7], "nice": false, "zero": false}, "axis": {"orient": "left", "values": [5,0,-10], "labelOverlap": false}}}}
 ]},
{"width": 308, "height": 132,
 "title": {"text": "(1f) WTI的对数收益率时间图", "dx": -7, "offset": 29, "fontSize": 18},
 "layer": [
  {"data": {"name": "ts"}, "mark": {"type": "line", "color": "black", "strokeWidth": 1.5},
   "encoding": {
    "x": {"field": "t", "type": "quantitative", "title": null, "scale": {"domain": [2005.72, 2013.24], "nice": false, "zero": false}, "axis": {"values": [2006,2007,2008,2009,2010,2011,2012,2013], "format": "d", "labelOverlap": false, "labelExpr": "datum.value % 2 == 0 ? datum.label : ''"}},
    "y": {"field": "f", "type": "quantitative", "title": null, "scale": {"domain": [-14.2, 17.6], "nice": false, "zero": false}, "axis": {"values": [15,10,5,0,-5,-10], "labelOverlap": false, "labelExpr": "datum.value == -10 || datum.value == 0 || datum.value == 10 ? datum.label : ''"}}}},
  {"data": {"values": [{}]}, "mark": {"type": "rule", "color": "black", "strokeWidth": 2.5},
   "encoding": {"y": {"datum": 0}}}
 ]}
]
}
